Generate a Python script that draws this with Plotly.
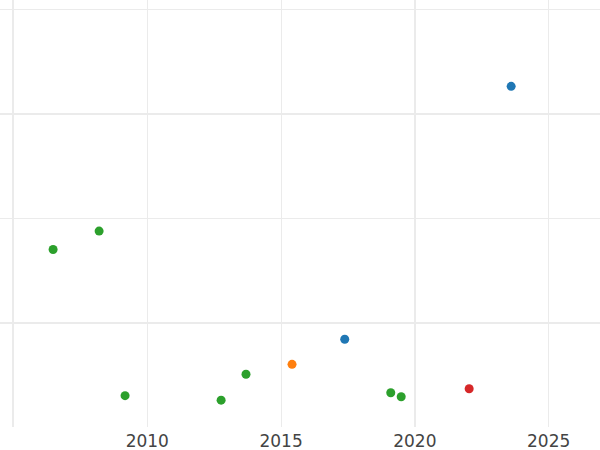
import plotly.graph_objects as go

# Data
years_green = [2006.48, 2008.20, 2009.17, 2012.76, 2013.69, 2019.10, 2019.49]
vals_green = [1.700, 1.876, 0.300, 0.257, 0.505, 0.328, 0.290]
years_orange = [2015.41]
vals_orange = [0.600]
years_blue = [2017.38, 2023.60]
vals_blue = [0.840, 3.262]
years_red = [2022.03]
vals_red = [0.366]

x_ticks = [2010, 2015, 2020, 2025]
x_ticks_bold = [2005, 2020]
y_ticks = [1, 2, 3, 4]
y_ticks_bold = [1, 3]

xr = [2004.496, 2026.92]
yr = [0.0, 4.089]

fig = go.Figure()
series = [
    (years_blue, vals_blue, "#1f77b4"),
    (years_orange, vals_orange, "#ff7f0e"),
    (years_green, vals_green, "#2ca02c"),
    (years_red, vals_red, "#d62728"),
]
for xs, ys, c in series:
    fig.add_trace(go.Scatter(x=xs, y=ys, mode="markers",
                             marker=dict(color=c, size=9, line=dict(width=0)),
                             showlegend=False))
# helper trace for overlay grid axes
fig.add_trace(go.Scatter(x=[None], y=[None], xaxis="x2", yaxis="y2",
                         showlegend=False, hoverinfo="skip"))

grid = "#ebebeb"
fig.update_layout(
    width=600, height=450,
    margin=dict(l=0, r=0, t=0, b=23, autoexpand=False),
    paper_bgcolor="white", plot_bgcolor="white",
    font=dict(family="DejaVu Sans", size=17, color="#444444"),
    xaxis=dict(range=xr, tickmode="array", tickvals=x_ticks, showgrid=True,
               gridcolor=grid, gridwidth=1, zeroline=False, showline=False,
               ticks="", automargin=False, ticklabelstandoff=2),
    yaxis=dict(range=yr, tickmode="array", tickvals=y_ticks, showgrid=True,
               gridcolor=grid, gridwidth=1, zeroline=False, showline=False,
               showticklabels=False, ticks="", automargin=False),
    xaxis2=dict(range=xr, overlaying="x", tickmode="array", tickvals=x_ticks_bold,
                showgrid=True, gridcolor=grid, gridwidth=2, zeroline=False,
                showticklabels=False, ticks="", anchor="y2", automargin=False),
    yaxis2=dict(range=yr, overlaying="y", tickmode="array", tickvals=y_ticks_bold,
                showgrid=True, gridcolor=grid, gridwidth=2, zeroline=False,
                showticklabels=False, ticks="", anchor="x2", automargin=False),
)
fig.write_html("out.html", config={"displayModeBar": False},
               post_script="document.body.style.margin='0';document.body.style.padding='0';")
